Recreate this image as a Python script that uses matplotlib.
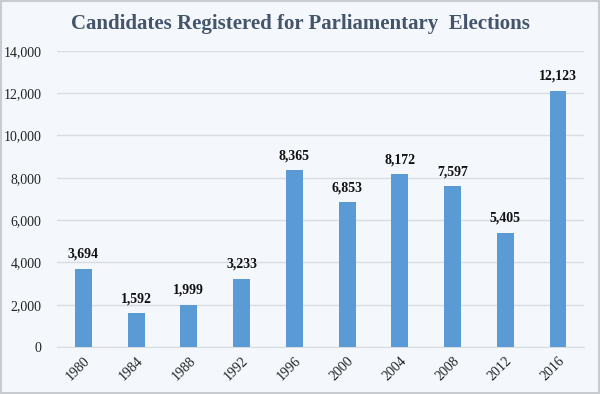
import matplotlib.pyplot as plt
from matplotlib.patches import Rectangle
from matplotlib.ticker import FuncFormatter

plt.rcParams['font.family'] = ['Liberation Serif', 'DejaVu Serif']

years = ['1980', '1984', '1988', '1992', '1996', '2000', '2004', '2008', '2012', '2016']
candidates = [3694, 1592, 1999, 3233, 8365, 6853, 8172, 7597, 5405, 12123]

bg = '#f4f8fc'
fig = plt.figure(figsize=(6, 3.94), dpi=100, facecolor=bg)
ax = fig.add_axes([0.095, 0.119, 0.879, 0.752], facecolor=bg)

x = range(len(years))
ax.bar(x, candidates, width=0.32, color='#5b9bd5', zorder=3)
for xi, v in zip(x, candidates):
    ax.text(xi, v + 380, f'{v:,}', ha='center', va='bottom',
            fontsize=10, fontweight='bold', color='#111111')

ax.set_ylim(0, 14000)
ax.set_xlim(-0.5, len(years) - 0.5)
ax.set_yticks(range(0, 14001, 2000))
ax.yaxis.set_major_formatter(FuncFormatter(lambda v, p: f'{int(v):,}'))
ax.set_xticks(list(x))
ax.set_xticklabels(years, rotation=45, ha='right', rotation_mode='anchor')
ax.tick_params(axis='both', length=0, labelsize=10, colors='#222222')
ax.tick_params(axis='x', pad=5)
ax.tick_params(axis='y', pad=11)
ax.grid(axis='y', color='#d9dde2', linewidth=1, zorder=0)
for s in ['top', 'right', 'left']:
    ax.spines[s].set_visible(False)
ax.spines['bottom'].set_color('#d9dde2')

fig.text(0.5, 0.938, 'Candidates Registered for Parliamentary  Elections',
         ha='center', va='center', fontsize=15, fontweight='bold', color='#44546a')

fig.patches.append(Rectangle((0.002, 0.002), 0.996, 0.996, transform=fig.transFigure,
                             fill=False, edgecolor='#c8ccd0', linewidth=1.5))

plt.savefig('out.png', dpi=100, facecolor=bg)
